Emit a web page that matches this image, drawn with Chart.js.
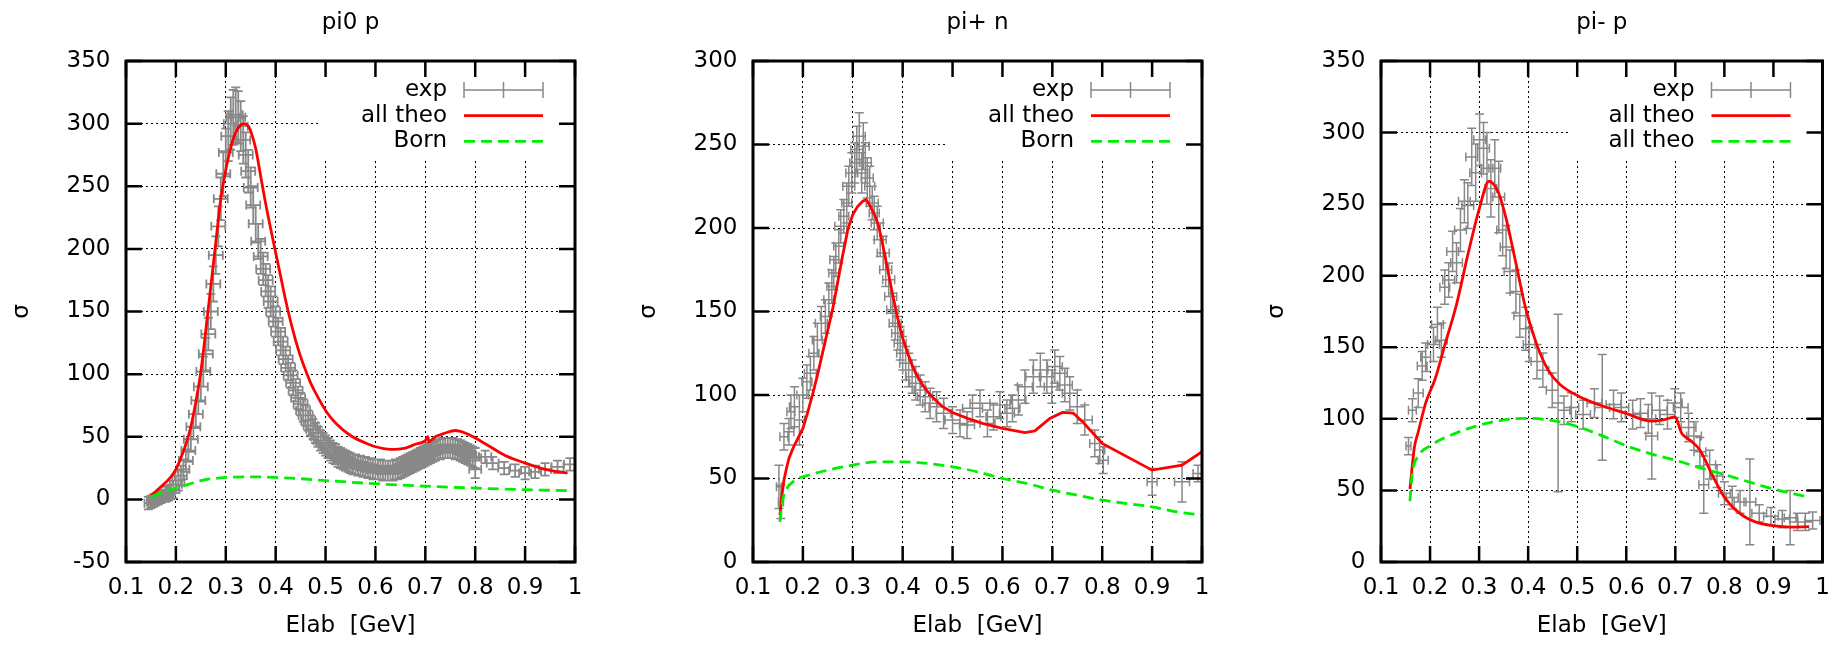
<!DOCTYPE html>
<html>
<head>
<meta charset="utf-8">
<script src="https://cdn.jsdelivr.net/npm/chart.js@4.4.1/dist/chart.umd.min.js"></script>
<style>
  html, body { margin: 0; padding: 0; background: #fff; }
  #wrap { position: relative; width: 1842px; height: 645px; overflow: hidden; }
  #wrap canvas { position: absolute; top: 0; }
</style>
</head>
<body>
<div id="wrap">
  <canvas id="pi0p" width="614" height="645" style="left:0px"></canvas>
  <canvas id="pipn" width="614" height="645" style="left:614px"></canvas>
  <canvas id="pimp" width="614" height="645" style="left:1228px"></canvas>
</div>
<script>
// ---- data: [x, y, dx, dy] for exp, [x, y] for curves ----
const xTicks = [0.1, 0.2, 0.3, 0.4, 0.5, 0.6, 0.7, 0.8, 0.9, 1];
const yTicks1 = [-50, 0, 50, 100, 150, 200, 250, 300, 350];
const yTicks2 = [0, 50, 100, 150, 200, 250, 300];
const yTicks3 = [0, 50, 100, 150, 200, 250, 300, 350];

const titles = ['pi0 p', 'pi+ n', 'pi- p'];
const keyLabels1 = ['exp', 'all theo', 'Born'];
const keyLabels2 = ['exp', 'all theo', 'Born'];
const keyLabels3 = ['exp', 'all theo', 'all theo'];

const exp1 = [
  [0.145,-3,0.008,5],[0.15,-2,0.008,5],[0.155,-1,0.008,5],[0.16,0,0.008,5],[0.165,1,0.008,5],
  [0.17,2,0.008,5],[0.175,3,0.008,5],[0.18,4,0.008,6],[0.185,5,0.008,6],[0.19,6,0.008,6],
  [0.195,8,0.012,7],[0.2,12,0.012,7],[0.205,15,0.012,8],[0.21,19,0.012,8],[0.215,24,0.012,8],
  [0.22,31,0.014,9],[0.225,39,0.014,9],[0.23,48,0.014,10],[0.235,58,0.014,10],[0.24,68,0.014,11],
  [0.245,79,0.014,11],[0.25,90,0.014,12],[0.255,102,0.014,12],[0.26,116,0.014,13],[0.265,132,0.014,13],
  [0.27,150,0.014,14],[0.275,172,0.014,14],[0.28,195,0.014,15],[0.285,218,0.014,16],[0.29,240,0.014,17],
  [0.295,260,0.014,18],[0.3,277,0.014,19],[0.305,290,0.014,20],[0.31,300,0.014,21],[0.315,305,0.014,22],
  [0.32,307,0.014,22],[0.325,305,0.014,21],[0.33,298,0.014,20],[0.335,287,0.014,19],[0.34,275,0.014,18],
  [0.345,262,0.014,17],[0.35,249,0.014,16],[0.355,235,0.014,15],[0.36,220,0.014,15],[0.365,206,0.014,14],
  [0.37,194,0.014,14],[0.375,184,0.014,13],[0.38,175,0.014,13],[0.385,166,0.014,13],[0.39,158,0.014,12],
  [0.395,150,0.014,12],[0.4,142,0.014,12],[0.405,134,0.014,11],[0.41,126,0.014,11],[0.415,119,0.014,11],
  [0.42,112,0.014,10],[0.425,105,0.014,10],[0.43,99,0.014,10],[0.435,93,0.014,10],[0.44,87,0.014,9],
  [0.445,81,0.014,9],[0.45,76,0.014,9],[0.455,71,0.014,9],[0.46,67,0.014,8],[0.465,63,0.014,8],
  [0.47,59,0.014,8],[0.475,56,0.014,8],[0.48,53,0.014,8],[0.485,50,0.014,8],[0.49,47,0.014,8],
  [0.495,45,0.014,8],[0.5,43,0.014,8],[0.505,41,0.012,8],[0.51,39,0.012,8],[0.515,37,0.012,8],
  [0.52,36,0.012,8],[0.525,34,0.012,8],[0.53,33,0.012,8],[0.535,32,0.012,8],[0.54,31,0.012,8],
  [0.545,30,0.012,8],[0.55,29,0.012,8],[0.555,28,0.012,8],[0.56,28,0.012,8],[0.565,27,0.012,8],
  [0.57,27,0.012,8],[0.575,26,0.012,8],[0.58,26,0.012,8],[0.585,25,0.012,8],[0.59,25,0.012,8],
  [0.595,24,0.012,8],[0.6,24,0.012,8],[0.605,24,0.012,8],[0.61,24,0.012,8],[0.615,23,0.012,8],
  [0.62,23,0.012,8],[0.625,23,0.012,8],[0.63,23,0.012,8],[0.635,23,0.012,8],[0.64,24,0.012,8],
  [0.645,24,0.012,8],[0.65,25,0.012,8],[0.655,26,0.012,8],[0.66,27,0.012,8],[0.665,28,0.012,8],
  [0.67,29,0.012,8],[0.675,30,0.012,8],[0.68,31,0.012,8],[0.685,32,0.012,8],[0.69,33,0.012,8],
  [0.695,34,0.012,8],[0.7,35,0.012,8],[0.705,36,0.012,8],[0.71,37,0.012,8],[0.715,38,0.012,8],
  [0.72,39,0.012,8],[0.725,40,0.012,8],[0.73,40,0.012,8],[0.735,41,0.012,8],[0.74,41,0.012,8],
  [0.745,41,0.012,8],[0.75,41,0.012,8],[0.755,41,0.012,8],[0.76,40,0.012,8],[0.765,40,0.012,8],
  [0.77,39,0.012,8],[0.775,38,0.012,8],[0.78,37,0.012,8],[0.785,36,0.012,8],[0.79,35,0.012,8],
  [0.795,34,0.012,8],[0.8,33,0.012,8],[0.8,24,0.012,7],[0.82,34,0.012,5],[0.835,29,0.012,5],
  [0.858,25,0.012,5],[0.88,23,0.012,5],[0.9,21,0.012,5],[0.92,22,0.012,5],[0.94,24,0.012,5],
  [0.965,26,0.012,5],[0.99,28,0.012,5]
];
const theo1 = [
  [0.15,3],[0.17,10],[0.19,18],[0.2,24],[0.21,33],[0.22,44],[0.23,58],[0.24,78],[0.25,102],
  [0.26,135],[0.27,170],[0.28,205],[0.29,240],[0.3,263],[0.31,281],[0.32,293],[0.33,299],
  [0.338,300],[0.345,298],[0.35,294],[0.36,280],[0.37,258],[0.38,236],[0.39,216],[0.4,197],
  [0.41,178],[0.42,159],[0.43,142],[0.44,127],[0.45,114],[0.46,103],[0.47,93],[0.48,85],
  [0.5,71],[0.52,61],[0.55,51],[0.58,45],[0.6,42],[0.63,40],[0.66,41],[0.68,44],[0.7,47],
  [0.705,50],[0.707,46],[0.72,50],[0.74,53],[0.76,55],[0.78,53],[0.8,49],[0.83,42],[0.86,35],
  [0.9,29],[0.94,24],[0.985,21]
];
const born1 = [
  [0.15,2],[0.17,5],[0.2,9],[0.225,12],[0.25,15],[0.3,17.5],[0.35,18],[0.4,17.5],[0.45,16.5],
  [0.5,15],[0.6,12.5],[0.7,10.5],[0.8,9],[0.9,7.7],[0.985,7]
];

const exp2 = [
  [0.152,45,0.005,13],[0.156,36,0.005,10],[0.162,75,0.008,8],[0.172,78,0.01,8],[0.176,90,0.008,10],
  [0.183,93,0.01,12],[0.193,85,0.01,15],[0.2,100,0.012,10],[0.208,108,0.01,10],[0.215,113,0.012,10],
  [0.222,125,0.01,10],[0.229,133,0.01,10],[0.237,143,0.012,10],[0.245,147,0.01,10],[0.252,157,0.01,10],
  [0.258,165,0.01,10],[0.262,173,0.01,10],[0.266,181,0.012,10],[0.272,189,0.01,10],[0.276,201,0.012,10],
  [0.282,207,0.01,10],[0.288,215,0.01,12],[0.292,225,0.012,12],[0.298,233,0.012,12],[0.304,239,0.01,12],
  [0.308,247,0.012,14],[0.313,255,0.012,14],[0.318,233,0.012,12],[0.321,249,0.012,14],[0.325,239,0.012,12],
  [0.329,230,0.012,12],[0.334,225,0.01,12],[0.339,215,0.012,10],[0.343,209,0.01,10],[0.349,203,0.012,10],
  [0.355,193,0.012,10],[0.361,185,0.012,10],[0.366,175,0.012,10],[0.372,169,0.012,10],[0.376,159,0.012,10],
  [0.38,151,0.012,10],[0.385,143,0.012,10],[0.39,137,0.012,10],[0.395,131,0.012,10],[0.4,125,0.012,10],
  [0.406,119,0.012,10],[0.412,115,0.012,10],[0.419,111,0.012,10],[0.426,107,0.012,10],[0.435,103,0.012,9],
  [0.445,99,0.015,9],[0.455,95,0.015,9],[0.468,93,0.015,9],[0.482,89,0.015,9],[0.5,85,0.015,8],
  [0.515,83,0.015,8],[0.529,82,0.015,8],[0.54,92,0.02,8],[0.555,95,0.02,8],[0.57,83,0.015,8],
  [0.582,87,0.015,8],[0.595,94,0.02,8],[0.609,89,0.015,8],[0.62,92,0.015,8],[0.632,97,0.015,9],
  [0.645,105,0.015,10],[0.662,111,0.015,10],[0.676,115,0.015,10],[0.689,111,0.015,10],[0.699,105,0.015,10],
  [0.705,117,0.015,10],[0.715,113,0.015,10],[0.725,106,0.015,10],[0.735,101,0.015,10],[0.75,93,0.015,10],
  [0.765,85,0.015,9],[0.785,71,0.01,8],[0.795,67,0.01,8],[0.802,61,0.01,8],[0.9,48,0.01,8],
  [0.96,48,0.015,12],[0.992,53,0.01,5]
];
const theo2 = [
  [0.154,28],[0.158,40],[0.162,49],[0.167,56],[0.172,62],[0.18,68],[0.19,74],[0.2,80],[0.21,90],
  [0.22,101],[0.23,113],[0.24,126],[0.25,139],[0.26,152],[0.27,168],[0.28,184],[0.29,199],[0.3,208],
  [0.31,213],[0.32,216],[0.327,217],[0.335,213],[0.345,207],[0.352,201],[0.36,190],[0.37,175],
  [0.38,160],[0.39,146],[0.4,134],[0.41,125],[0.42,117],[0.43,111],[0.44,106],[0.45,102],[0.462,98],
  [0.48,93],[0.5,89.5],[0.53,86],[0.56,83],[0.6,80],[0.645,77.5],[0.665,78.5],[0.695,86],[0.72,89.6],
  [0.742,89.2],[0.762,83.5],[0.8,71],[0.9,55],[0.96,58],[1,66]
];
const born2 = [
  [0.154,24],[0.157,32],[0.162,40],[0.17,45],[0.18,48],[0.19,50],[0.2,51],[0.25,55],[0.3,58],
  [0.35,60],[0.4,60],[0.45,59],[0.5,57],[0.55,54],[0.6,50],[0.65,47],[0.7,43],[0.75,40],[0.8,37],
  [0.85,35],[0.9,33],[0.95,30],[1,28]
];

const exp3 = [
  [0.156,81,0.005,6],[0.164,106,0.008,8],[0.176,118,0.01,10],[0.184,137,0.01,10],[0.191,143,0.01,10],
  [0.207,152,0.012,12],[0.215,166,0.012,12],[0.223,155,0.012,12],[0.23,192,0.01,12],[0.238,197,0.012,12],
  [0.246,217,0.012,14],[0.254,209,0.012,14],[0.262,232,0.012,15],[0.27,252,0.012,15],[0.277,249,0.012,16],
  [0.285,283,0.012,20],[0.293,272,0.012,20],[0.301,295,0.012,18],[0.309,289,0.012,18],[0.316,275,0.012,25],
  [0.324,261,0.012,20],[0.332,275,0.012,20],[0.34,255,0.012,25],[0.348,232,0.012,18],[0.355,220,0.012,15],
  [0.363,203,0.012,15],[0.375,189,0.012,15],[0.383,172,0.012,15],[0.395,163,0.012,15],[0.402,152,0.012,12],
  [0.418,140,0.012,12],[0.43,134,0.012,12],[0.449,120,0.012,12],[0.461,111,0.012,62],[0.473,106,0.012,10],
  [0.488,108,0.015,10],[0.512,103,0.015,10],[0.535,111,0.015,10],[0.551,108,0.015,37],[0.574,110,0.015,10],
  [0.59,108,0.015,10],[0.613,103,0.015,10],[0.629,104,0.015,10],[0.645,100,0.015,10],[0.652,88,0.012,30],
  [0.668,106,0.015,10],[0.684,103,0.015,10],[0.699,111,0.015,10],[0.711,108,0.015,10],[0.727,94,0.015,10],
  [0.738,88,0.015,10],[0.75,77,0.012,10],[0.758,54,0.01,20],[0.77,68,0.012,10],[0.785,60,0.012,8],
  [0.8,48,0.012,8],[0.816,45,0.012,8],[0.832,42,0.012,8],[0.852,42,0.012,30],[0.871,34,0.015,6],
  [0.895,32,0.015,6],[0.918,30,0.015,6],[0.934,31,0.012,19],[0.949,28,0.015,6],[0.965,28,0.015,6],
  [0.98,29,0.015,6]
];
const theo3 = [
  [0.159,51],[0.168,80],[0.176,91],[0.191,111],[0.211,128.5],[0.23,151.5],[0.254,180],[0.277,214.6],
  [0.301,247.6],[0.32,266],[0.34,257.6],[0.355,240],[0.375,208.8],[0.395,177],[0.418,151.5],[0.441,134],
  [0.465,124],[0.504,115.6],[0.543,110],[0.598,104],[0.652,98.4],[0.676,99.3],[0.699,101.3],[0.713,90],
  [0.734,84],[0.75,78.3],[0.777,59.7],[0.8,45.3],[0.832,33.8],[0.863,28],[0.902,25.2],[0.934,24.4],
  [0.973,24.7]
];
const born3 = [
  [0.159,42.5],[0.164,62.5],[0.176,74],[0.199,81],[0.238,88],[0.3,95.5],[0.363,99.8],[0.4,100.4],
  [0.457,98.4],[0.5,94.7],[0.55,88.3],[0.6,81.2],[0.652,75.4],[0.7,71.1],[0.754,65.4],[0.8,61.1],
  [0.855,55.4],[0.9,51],[0.973,45.3]
];

// ---- look ----
const FONT = 'DejaVu Sans';
const FSIZE = 23;
const GRAY = '#888888';
const RED = '#ff0000';
const GREEN = '#00ee00';
Chart.defaults.font.family = FONT;
Chart.defaults.font.size = FSIZE;
Chart.defaults.color = '#000';

// gnuplot-ish frame, inward ticks, opaque key and error bars
const gnuplotLook = {
  id: 'gnuplotLook',
  beforeDatasetsDraw(chart, args, opts) {
    const ctx = chart.ctx;
    const a = chart.chartArea;
    const xs = chart.scales.x;
    const ys = chart.scales.y;

    // white key box hides the grid behind it
    ctx.save();
    ctx.font = FSIZE + 'px "' + FONT + '"';
    let wMax = 0;
    opts.keyLabels.forEach(function(t) { wMax = Math.max(wMax, ctx.measureText(t).width); });
    const textRight = a.right - 128;
    const boxLeft = textRight - wMax - 40;
    ctx.fillStyle = '#fff';
    ctx.fillRect(boxLeft, a.top, a.right - boxLeft, 97);
    ctx.restore();

    // xy error bars of the exp set
    const cap = 4.5;
    ctx.save();
    ctx.beginPath();
    ctx.rect(a.left, a.top, a.right - a.left, a.bottom - a.top);
    ctx.clip();
    ctx.strokeStyle = GRAY;
    ctx.lineWidth = opts.barWidth;
    ctx.beginPath();
    chart.data.datasets[0].data.forEach(function(p) {
      const px = xs.getPixelForValue(p.x);
      const py = ys.getPixelForValue(p.y);
      const x0 = xs.getPixelForValue(p.x - p.dx);
      const x1 = xs.getPixelForValue(p.x + p.dx);
      const y0 = ys.getPixelForValue(p.y - p.dy);
      const y1 = ys.getPixelForValue(p.y + p.dy);
      ctx.moveTo(x0, py); ctx.lineTo(x1, py);
      ctx.moveTo(x0, py - cap); ctx.lineTo(x0, py + cap);
      ctx.moveTo(x1, py - cap); ctx.lineTo(x1, py + cap);
      ctx.moveTo(px, y0); ctx.lineTo(px, y1);
      ctx.moveTo(px - cap, y0); ctx.lineTo(px + cap, y0);
      ctx.moveTo(px - cap, y1); ctx.lineTo(px + cap, y1);
    });
    ctx.stroke();
    ctx.restore();
  },
  afterDraw(chart, args, opts) {
    const ctx = chart.ctx;
    const a = chart.chartArea;
    const xs = chart.scales.x;
    const ys = chart.scales.y;
    const tl = 16;

    ctx.save();
    ctx.strokeStyle = '#000';
    ctx.lineWidth = 2.5;
    ctx.beginPath();
    xs.ticks.forEach(function(t) {
      const px = xs.getPixelForValue(t.value);
      ctx.moveTo(px, a.bottom); ctx.lineTo(px, a.bottom - tl);
      ctx.moveTo(px, a.top); ctx.lineTo(px, a.top + tl);
    });
    ys.ticks.forEach(function(t) {
      const py = ys.getPixelForValue(t.value);
      ctx.moveTo(a.left, py); ctx.lineTo(a.left + tl, py);
      ctx.moveTo(a.right, py); ctx.lineTo(a.right - tl, py);
    });
    ctx.stroke();
    ctx.lineWidth = 3;
    ctx.strokeRect(a.left, a.top, a.right - a.left, a.bottom - a.top);

    // key
    ctx.font = FSIZE + 'px "' + FONT + '"';
    ctx.textAlign = 'right';
    ctx.textBaseline = 'middle';
    ctx.fillStyle = '#000';
    const textRight = a.right - 128;
    const s0 = a.right - 111;
    const s1 = a.right - 32;
    opts.keyLabels.forEach(function(t, i) {
      const y = a.top + 29 + i * 25.7;
      ctx.fillText(t, textRight, y);
      ctx.beginPath();
      if (i === 0) {
        ctx.strokeStyle = GRAY;
        ctx.lineWidth = 1.5;
        ctx.setLineDash([]);
        ctx.moveTo(s0, y); ctx.lineTo(s1, y);
        ctx.moveTo(s0, y - 8); ctx.lineTo(s0, y + 8);
        ctx.moveTo(s1, y - 8); ctx.lineTo(s1, y + 8);
        ctx.moveTo((s0 + s1) / 2, y - 8); ctx.lineTo((s0 + s1) / 2, y + 8);
      } else if (i === 1) {
        ctx.strokeStyle = RED;
        ctx.lineWidth = 2.8;
        ctx.setLineDash([]);
        ctx.moveTo(s0, y); ctx.lineTo(s1, y);
      } else {
        ctx.strokeStyle = GREEN;
        ctx.lineWidth = 2.8;
        ctx.setLineDash([11, 6]);
        ctx.moveTo(s0, y); ctx.lineTo(s1, y);
      }
      ctx.stroke();
    });
    ctx.restore();
  }
};

function toXY(rows) {
  return rows.map(function(r) { return { x: r[0], y: r[1] }; });
}

function toErr(rows) {
  return rows.map(function(r) { return { x: r[0], y: r[1], dx: r[2], dy: r[3] }; });
}

function makePanel(id, cfg) {
  const canvas = document.getElementById(id);
  const W = canvas.width;
  const al = cfg.areaLeft;
  const ar = cfg.areaRight;
  const lh = FSIZE * 1.2;
  const padLeft = al - 104 - lh / 2;

  return new Chart(canvas.getContext('2d'), {
    type: 'scatter',
    data: {
      datasets: [
        {
          label: cfg.keyLabels[0],
          data: toErr(cfg.exp),
          pointRadius: 0,
          showLine: false,
          order: 3,
        },
        {
          label: cfg.keyLabels[1],
          data: toXY(cfg.theo),
          showLine: true,
          borderColor: RED,
          borderWidth: 2.8,
          pointRadius: 0,
          cubicInterpolationMode: cfg.smooth ? 'monotone' : 'default',
          tension: 0,
          order: 2,
        },
        {
          label: cfg.keyLabels[2],
          data: toXY(cfg.born),
          showLine: true,
          borderColor: GREEN,
          borderWidth: 2.8,
          borderDash: [11, 6],
          pointRadius: 0,
          cubicInterpolationMode: 'monotone',
          order: 1,
        }
      ]
    },
    options: {
      responsive: false,
      animation: false,
      events: [],
      layout: {
        padding: { left: padLeft, right: W - ar, top: 0, bottom: 0 },
      },
      plugins: {
        legend: { display: false },
        tooltip: { enabled: false },
        title: {
          display: true,
          text: cfg.title,
          fullSize: false,
          color: '#000',
          font: { family: FONT, size: FSIZE, weight: 'normal' },
          padding: { top: 8.8, bottom: 24.6 },
        },
        gnuplotLook: { keyLabels: cfg.keyLabels, barWidth: cfg.barWidth },
      },
      scales: {
        x: {
          type: 'linear',
          min: 0.1,
          max: 1,
          afterBuildTicks: function(scale) {
            scale.ticks = xTicks.map(function(v) { return { value: v }; });
          },
          afterFit: function(scale) { scale.height = 83; },
          ticks: {
            padding: 12.2,
            maxRotation: 0,
            autoSkip: false,
            color: '#000',
            callback: function(v) { return String(v); },
          },
          grid: { color: '#000', lineWidth: 1, drawTicks: false },
          border: { display: false, dash: [2, 3] },
          title: {
            display: true,
            text: 'Elab  [GeV]',
            color: '#000',
            padding: { top: 0, bottom: 4.7 },
          },
        },
        y: {
          type: 'linear',
          min: cfg.yTicks[0],
          max: cfg.yTicks[cfg.yTicks.length - 1],
          afterBuildTicks: function(scale) {
            scale.ticks = cfg.yTicks.map(function(v) { return { value: v }; });
          },
          afterFit: function(scale) { scale.width = al - padLeft; },
          ticks: {
            padding: 15.5,
            autoSkip: false,
            color: '#000',
            callback: function(v) { return String(v); },
          },
          grid: { color: '#000', lineWidth: 1, drawTicks: false },
          border: { display: false, dash: [2, 3] },
          title: {
            display: true,
            text: 'σ',
            color: '#000',
            padding: { top: 0, bottom: 0 },
          },
        },
      },
    },
    plugins: [gnuplotLook],
  });
}

makePanel('pi0p', {
  title: titles[0], keyLabels: keyLabels1, exp: exp1, theo: theo1, born: born1,
  yTicks: yTicks1, areaLeft: 126, areaRight: 575, smooth: true, barWidth: 1.8,
});
makePanel('pipn', {
  title: titles[1], keyLabels: keyLabels2, exp: exp2, theo: theo2, born: born2,
  yTicks: yTicks2, areaLeft: 139, areaRight: 588, smooth: false, barWidth: 1.5,
});
makePanel('pimp', {
  title: titles[2], keyLabels: keyLabels3, exp: exp3, theo: theo3, born: born3,
  yTicks: yTicks3, areaLeft: 153, areaRight: 603, smooth: true, barWidth: 1.5,
});
</script>
</body>
</html>
